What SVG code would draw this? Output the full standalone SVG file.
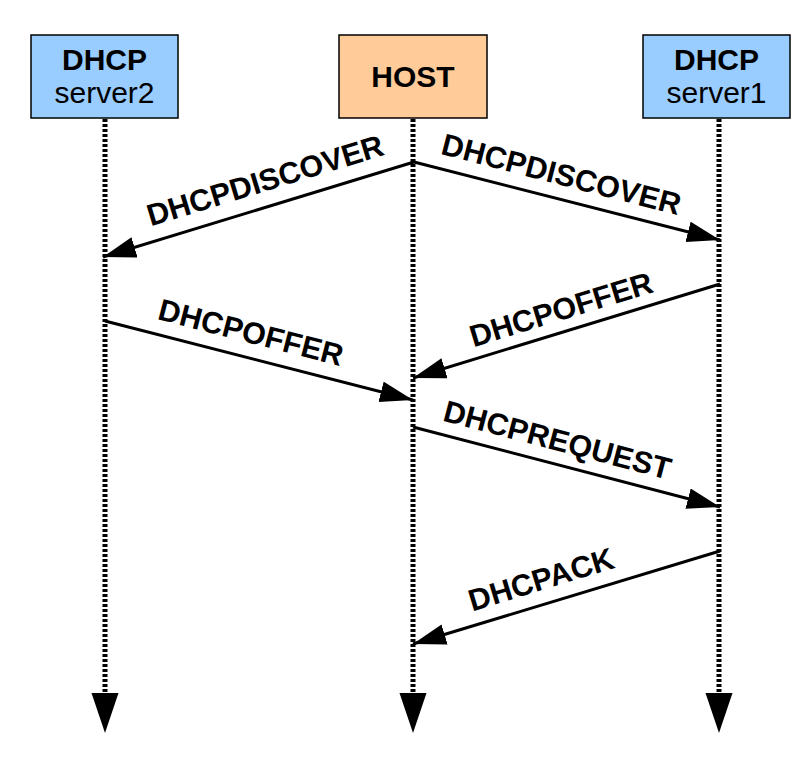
<svg xmlns="http://www.w3.org/2000/svg" width="796" height="764" viewBox="0 0 796 764">
<style>
.box{stroke:#000;stroke-width:1.5}
.srv{fill:#99ccff}
.host{fill:#ffcc99}
.t{font-family:"Liberation Sans",Arial,sans-serif;font-size:30px;fill:#000;text-anchor:middle}
.b{font-weight:bold}
.life{stroke:#000;stroke-width:5;stroke-dasharray:3 2;fill:none}
.msg{stroke:#000;stroke-width:3;fill:none;marker-end:url(#ah)}
.lbl{font-family:"Liberation Sans",Arial,sans-serif;font-size:30.5px;font-weight:bold;fill:#000;text-anchor:middle}
</style>
<defs>
<marker id="ah" markerUnits="userSpaceOnUse" markerWidth="34" markerHeight="22" refX="33" refY="10.5" orient="auto" viewBox="0 0 34 22">
<path d="M0,0 L33,10.5 L0,21 z" fill="#000"/>
</marker>
<marker id="le" markerUnits="userSpaceOnUse" markerWidth="41" markerHeight="28" refX="0" refY="13.5" orient="auto" viewBox="0 0 41 28">
<path d="M0,0 L40,13.5 L0,27 z" fill="#000"/>
</marker>
</defs>
<rect width="796" height="764" fill="#fff"/>
<g id="lifelines">
<line class="life" x1="105" y1="119" x2="105" y2="693" marker-end="url(#le)"/>
<line class="life" x1="413" y1="119" x2="413" y2="693" marker-end="url(#le)"/>
<line class="life" x1="719" y1="119" x2="719" y2="693" marker-end="url(#le)"/>
</g>
<g id="server2">
<rect class="box srv" x="31" y="35" width="147" height="83"/>
<text class="t b" x="104.5" y="70">DHCP</text>
<text class="t" x="104.5" y="103">server2</text>
</g>
<g id="host">
<rect class="box host" x="339" y="35" width="148" height="83"/>
<text class="t b" x="413" y="87">HOST</text>
</g>
<g id="server1">
<rect class="box srv" x="643" y="35" width="147" height="83"/>
<text class="t b" x="716.5" y="70">DHCP</text>
<text class="t" x="716.5" y="103">server1</text>
</g>
<g id="connectors">
<line class="msg" x1="414" y1="162" x2="103" y2="257"/>
<line class="msg" x1="414" y1="162" x2="720" y2="240"/>
<line class="msg" x1="720" y1="284" x2="413" y2="378"/>
<line class="msg" x1="105" y1="321" x2="413" y2="400"/>
<line class="msg" x1="413" y1="427" x2="720" y2="507"/>
<line class="msg" x1="720" y1="551" x2="413" y2="644"/>
<text class="lbl" transform="translate(265,180) rotate(-17)" x="0" y="10.9">DHCPDISCOVER</text>
<text class="lbl" transform="translate(561.5,174) rotate(14.5)" x="0" y="10.9">DHCPDISCOVER</text>
<text class="lbl" transform="translate(561,309) rotate(-17)" x="0" y="10.9">DHCPOFFER</text>
<text class="lbl" transform="translate(251,332) rotate(14.4)" x="0" y="10.9">DHCPOFFER</text>
<text class="lbl" transform="translate(557.5,439.5) rotate(14.7)" x="0" y="10.9">DHCPREQUEST</text>
<text class="lbl" transform="translate(541,579) rotate(-17)" x="0" y="10.9">DHCPACK</text>
</g>
</svg>
